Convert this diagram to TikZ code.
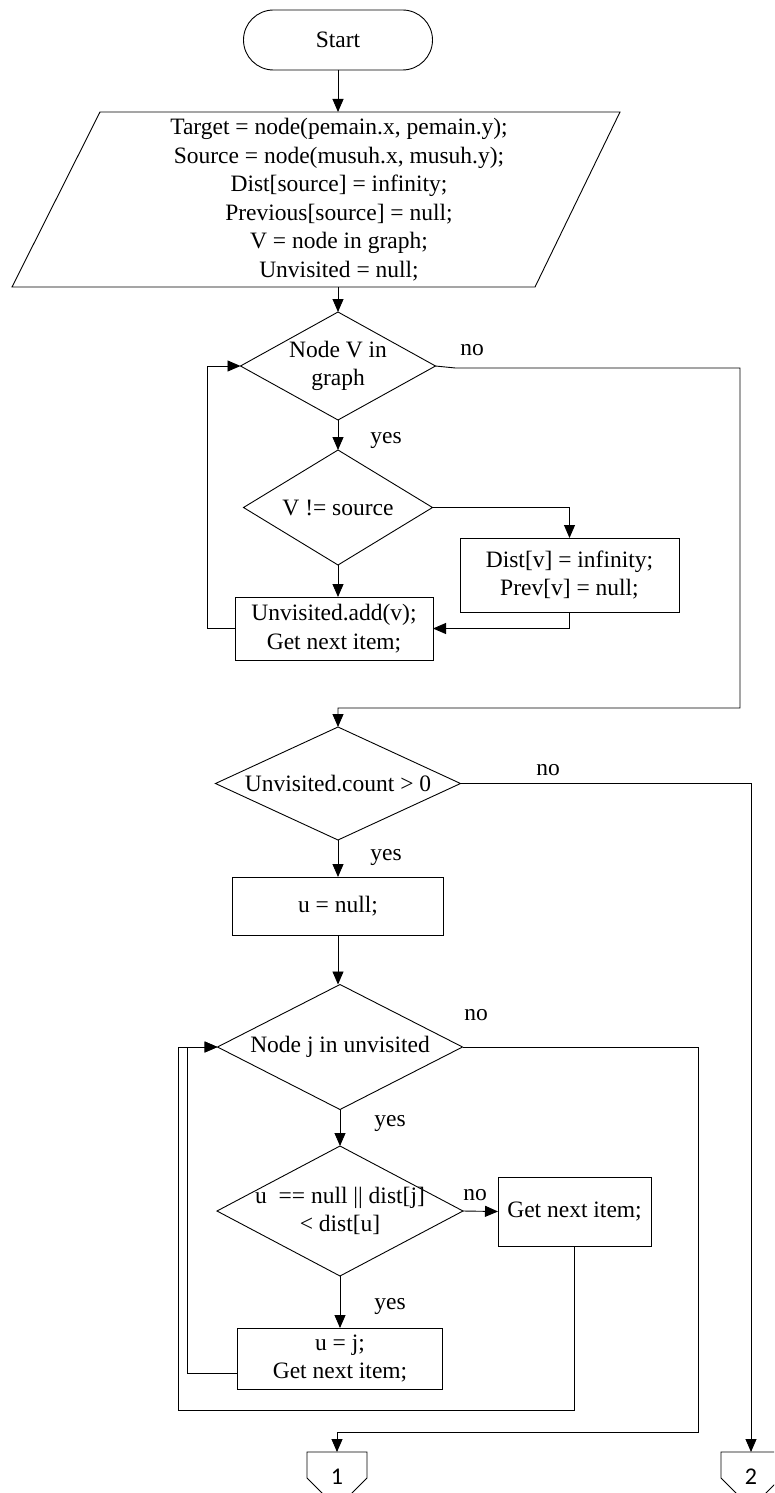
\documentclass[tikz,border=0pt]{standalone}
\usepackage{fontspec}
\setmainfont{Liberation Serif}
\newfontfamily\connfont{Carlito}
\usetikzlibrary{shapes.geometric,arrows.meta,calc}
\begin{document}
\begin{tikzpicture}[x=1pt,y=-1pt,
  every node/.style={font=\fontsize{23.5}{28.5}\selectfont, inner sep=0pt, outer sep=0pt},
  box/.style={draw, rectangle, align=center, line width=0.9pt},
  dia/.style={draw, diamond, line width=0.9pt},
  txt/.style={align=center},
  arr/.style={-{Triangle[length=13pt,width=11pt]}, line width=0.9pt},
  ln/.style={line width=0.9pt},
  conn/.style={minimum width=60pt, minimum height=26pt},
  cnum/.style={font=\connfont\fontsize{24}{28}\selectfont}
]
\useasboundingbox (0,0) rectangle (774,1493);
\clip (0,0) rectangle (774,1493);

% start
\node[box, rounded corners=30pt, minimum width=189pt, minimum height=60pt] (start) at (338,40) {Start};

% init parallelogram
\draw[ln] (100,112) -- (620,112) -- (535,287) -- (12,287) -- cycle;
\node[txt, minimum height=175pt] (init) at (339,199.5) {Target = node(pemain.x, pemain.y);\\Source = node(musuh.x, musuh.y);\\Dist[source] = infinity;\\Previous[source] = null;\\V = node in graph;\\Unvisited = null;};

% first loop
\node[dia, minimum width=195pt, minimum height=108pt] (d1) at (338,366) {};
\node[txt] (d1t) at (338,366) {Node V in\\graph};
\node[dia, minimum width=189pt, minimum height=115pt] (d2) at (338,507.5) {};
\node[txt] (d2t) at (338,507.5) {V != source};
\node[box, minimum width=219pt, minimum height=74pt] (dist) at (569.5,575) {Dist[v] = infinity;\\Prev[v] = null;};
\node[box, minimum width=198pt, minimum height=63pt] (unv) at (334,628.5) {Unvisited.add(v);\\Get next item;};

% second part
\node[dia, minimum width=245pt, minimum height=113pt] (d3) at (338,783.5) {};
\node[txt] (d3t) at (338,783.5) {Unvisited.count > 0};
\node[box, minimum width=211pt, minimum height=58pt] (unull) at (338,906) {u = null;};
\node[dia, minimum width=245pt, minimum height=125pt] (d4) at (340,1047) {};
\node[txt] (d4t) at (340,1047) {Node j in unvisited};
\node[dia, minimum width=246pt, minimum height=130pt] (d5) at (340,1211) {};
\node[txt] (d5t) at (340,1211) {u\ \ == null || dist[j]\\< dist[u]};
\node[box, minimum width=153pt, minimum height=69pt] (gni) at (574.5,1211.5) {Get next item;};
\node[box, minimum width=205pt, minimum height=61pt] (uj) at (340,1358.5) {u = j;\\Get next item;};

% off-page connectors
\node[conn] (c1) at (337,1465) {};
\draw[ln] (c1.south west) -- (c1.north west) -- (c1.north east) -- (c1.south east) -- ($(c1.south)+(0,30)$) -- cycle;
\node[cnum] (c1t) at (337,1477) {1};
\node[conn] (c2) at (751,1465) {};
\draw[ln] (c2.south west) -- (c2.north west) -- (c2.north east) -- (c2.south east) -- ($(c2.south)+(0,30)$) -- cycle;
\node[cnum] (c2t) at (751,1477) {2};

% coordinates for bends
\coordinate (r1) at (740,708);
\coordinate (l1) at (207,628.5);
\coordinate (r2) at (698,1432);
\coordinate (l2) at (187,1373);
\coordinate (l3) at (178,1410);

% connectors
\draw[arr] (start) -- (start |- init.north);
\draw[arr] (init.south -| d1.north) -- (d1.north);
\draw[arr] (d1.east) -- ++(20,2) -| (r1) -- (r1 -| d3.north) -- (d3.north);
\draw[arr] (d1.south) -- (d2.north);
\draw[arr] (d2.east) -| (dist.north);
\draw[arr] (dist.south) |- (unv.east);
\draw[arr] (d2.south) -- (d2.south |- unv.north);
\draw[arr] (unv.west) -- (l1) |- (d1.west);

\draw[arr] (d3.east) -| (c2.north);
\draw[arr] (d3.south) -- (unull.north);
\draw[arr] (unull.south) -- (unull.south |- d4.north);
\draw[arr] (d4.east) -| (r2) -| (c1.north);
\draw[arr] (d4.south) -- (d5.north);
\draw[arr] (d5.east) -- (gni.west);
\draw[arr] (d5.south) -- (uj.north);
\draw[arr] (uj.west |- l2) -- (l2) |- (d4.west);
\draw[arr] (gni.south) |- (l3) |- (d4.west);

% labels
\node (no1) at (472,350) {no};
\node (yes1) at (386,440) {yes};
\node (no2) at (548,770) {no};
\node (yes2) at (386,857) {yes};
\node (no3) at (476,1015) {no};
\node (yes3) at (390,1123) {yes};
\node (no4) at (475,1195) {no};
\node (yes4) at (390,1306) {yes};
\end{tikzpicture}
\end{document}
